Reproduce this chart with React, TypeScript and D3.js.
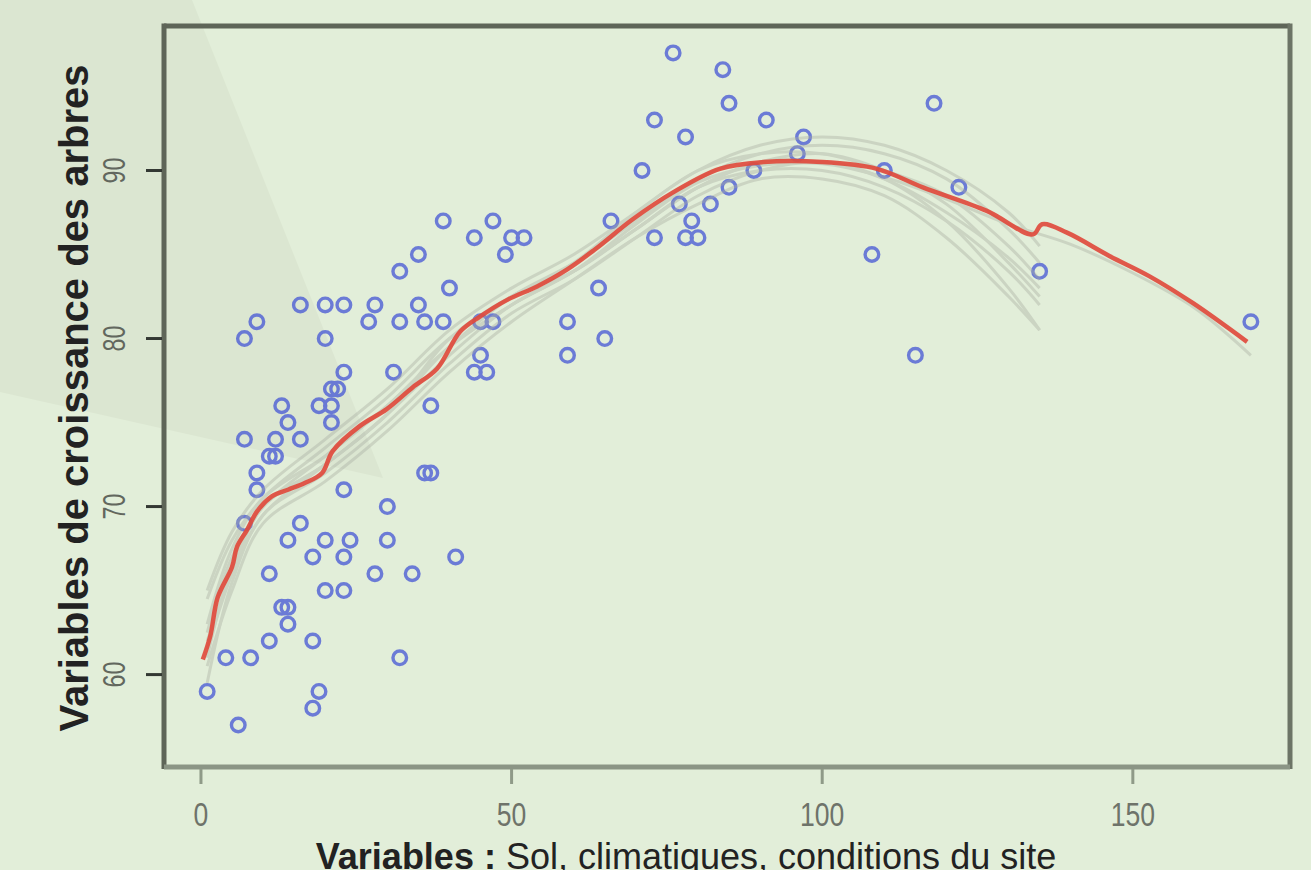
import React from 'react';
import * as d3 from 'd3';

// taille de la figure
const W = 1311;
const H = 870;
const plot = { left: 164, right: 1290, top: 26, bottom: 767 };

const xTicks = [0, 50, 100, 150];
const yTicks = [60, 70, 80, 90];

const xTitleBold = 'Variables :';
const xTitleRest = ' Sol, climatiques, conditions du site';
const yTitle = 'Variables de croissance des arbres';

// observations (x = variable du site, y = croissance)
const pointX = [
  76, 84, 85, 118, 73, 91, 78, 97, 96, 71, 110, 89, 85, 122, 77, 82, 79, 66, 73, 78, 80, 108, 135, 64, 59, 65, 59, 115, 169,
  39, 47, 44, 50, 52, 35, 49, 32, 40, 16, 20, 23, 28, 35, 9, 27, 32, 36, 39, 45, 47, 7, 20, 45, 23, 31, 44, 46, 21, 22,
  13, 19, 21, 37, 14, 21, 7, 12, 16, 11, 12, 9, 36, 37, 9, 23, 30, 7, 16, 14, 20, 24, 30, 18, 23, 41, 11, 28, 34, 20, 23,
  13, 14, 14, 11, 18, 4, 8, 32, 1, 19, 18, 6,
];
const pointY = [
  97, 96, 94, 94, 93, 93, 92, 92, 91, 90, 90, 90, 89, 89, 88, 88, 87, 87, 86, 86, 86, 85, 84, 83, 81, 80, 79, 79, 81,
  87, 87, 86, 86, 86, 85, 85, 84, 83, 82, 82, 82, 82, 82, 81, 81, 81, 81, 81, 81, 81, 80, 80, 79, 78, 78, 78, 78, 77, 77,
  76, 76, 76, 76, 75, 75, 74, 74, 74, 73, 73, 72, 72, 72, 71, 71, 70, 69, 69, 68, 68, 68, 68, 67, 67, 67, 66, 66, 66, 65, 65,
  64, 64, 63, 62, 62, 61, 61, 61, 59, 59, 58, 57,
];

// courbe lissée (loess)
const fitX = [0.3, 1.5, 2.7, 5, 5.8, 7.4, 9, 11.4, 14, 16.7, 19.5, 21.2, 25.6, 29.9, 34.1, 38, 41.7, 44.9, 49.3, 54.1,
  58.9, 63.4, 69.5, 76, 83.5, 90.5, 100, 108.8, 116.2, 126.5, 133.9, 135.4, 139.4, 146.3, 152.7, 159.7, 168.4];
const fitY = [60.9, 62.3, 64.6, 66.4, 67.6, 68.6, 69.7, 70.6, 71, 71.4, 72, 73.3, 74.8, 75.8, 77.1, 78.2, 80.4, 81.3, 82.3, 83.1,
  84.1, 85.3, 87.1, 88.7, 90.1, 90.5, 90.5, 90.1, 89, 87.6, 86.2, 86.8, 86.3, 84.9, 83.7, 82.1, 79.8];

// courbes bootstrap
const bootX = [1, 5, 10, 20, 30, 40, 50, 60, 70, 80, 90, 100, 110, 120, 130, 135];
const boot1 = [63, 67.5, 70.5, 73, 76, 79.5, 82.5, 84.5, 87, 89.5, 91, 91.5, 91, 89.5, 86.5, 84.5];
const boot2 = [61, 66.5, 70, 72.5, 75.5, 79, 82, 84, 86.5, 89, 90.5, 91, 90, 88, 84.5, 82.5];
const boot3 = [59.5, 65.5, 69.5, 72, 75, 78.5, 81.5, 83.5, 86, 88.5, 90, 90.5, 89.5, 87, 83, 80.5];
const boot4 = [64.5, 68, 70.5, 73.5, 76.5, 80, 82.5, 84.5, 87.5, 90, 91.5, 92, 91.5, 90, 87.5, 85.5];
const boot5 = [62, 66, 69.5, 72.5, 75.5, 80, 82.5, 84, 86.5, 89, 90, 90, 89, 87, 84, 82];
const boot6 = [60.5, 65, 69, 71.5, 74.5, 78, 81, 83.5, 86, 88, 89.5, 89.5, 88.5, 86, 82.5, 80.5];
const boot7 = [65, 68.5, 71, 74, 77, 80.5, 83, 85, 87.5, 90, 91, 91, 90, 88.5, 85.5, 83.5];
const boot8 = [62.5, 67, 70, 73, 76, 79.5, 82, 84, 86.5, 89, 90.5, 90.5, 89.5, 87.5, 84.8, 83];
const bootLongX = [1, 5, 10, 20, 30, 40, 50, 60, 70, 80, 90, 100, 110, 120, 130, 140, 150, 160, 169];
const bootLongY = [61.5, 66, 70, 72.5, 75.5, 79.5, 82, 84, 86.8, 89.3, 90.3, 90.4, 89.6, 88.3, 86.8, 85.6, 83.9, 81.8, 79];

const bootSeries = [boot1, boot2, boot3, boot4, boot5, boot6, boot7, boot8];

const font = '"Liberation Sans", Arial, sans-serif';

export default function App() {
  const x = d3.scaleLinear().domain([-5.95, 175.3]).range([plot.left, plot.right]);
  const y = d3.scaleLinear().domain([54.5, 98.6]).range([plot.bottom, plot.top]);

  const line = d3.line<[number, number]>()
    .x(d => x(d[0]))
    .y(d => y(d[1]))
    .curve(d3.curveCatmullRom.alpha(0.5));

  const bootPaths = bootSeries.map(s => line(bootX.map((v, i) => [v, s[i]]) as [number, number][]));
  bootPaths.push(line(bootLongX.map((v, i) => [v, bootLongY[i]]) as [number, number][]));
  const fitPath = line(fitX.map((v, i) => [v, fitY[i]]) as [number, number][]);

  return (
    <svg width={W} height={H} style={{ position: 'absolute', left: 0, top: 0, display: 'block' }}>
      <rect x={0} y={0} width={W} height={H} fill="#e2eed9" />
      {/* zone plus sombre en haut à gauche */}
      <polygon points="0,0 192,0 383,478 0,392" fill="#dbe6d1" />

      {/* points */}
      <g fill="none" stroke="#4a5bd6" strokeWidth={3.4} opacity={0.78}>
        {pointX.map((v, i) => (
          <circle key={i} cx={x(v)} cy={y(pointY[i])} r={6.8} />
        ))}
      </g>

      {/* courbes bootstrap */}
      <g fill="none" stroke="#a9aea2" strokeWidth={3} opacity={0.4}>
        {bootPaths.map((p, i) => <path key={i} d={p ?? ''} />)}
      </g>

      <path d={fitPath ?? ''} fill="none" stroke="#e0473a" strokeWidth={4.5} opacity={0.9} strokeLinejoin="round" />

      {/* cadre */}
      <line x1={plot.left} x2={plot.right} y1={plot.top} y2={plot.top} stroke="#5e6558" strokeWidth={5} />
      <line x1={plot.left} x2={plot.left} y1={plot.top - 2.5} y2={plot.bottom + 2} stroke="#5e6558" strokeWidth={5} />
      <line x1={plot.right} x2={plot.right} y1={plot.top - 2.5} y2={plot.bottom + 2} stroke="#6c7466" strokeWidth={5} />
      <line x1={plot.left} x2={plot.right} y1={plot.bottom} y2={plot.bottom} stroke="#8b9585" strokeWidth={5} />

      {/* axe x */}
      {xTicks.map(t => (
        <g key={t}>
          <line x1={x(t)} x2={x(t)} y1={plot.bottom + 2} y2={plot.bottom + 17} stroke="#8f9a88" strokeWidth={3} />
          <text transform={`translate(${x(t)},826) scale(0.78,1)`} textAnchor="middle"
            fontFamily={font} fontSize={34} fill="#6e736a">{t}</text>
        </g>
      ))}

      {/* axe y */}
      {yTicks.map(t => (
        <g key={t}>
          <line x1={plot.left - 18} x2={plot.left - 2} y1={y(t)} y2={y(t)} stroke="#333833" strokeWidth={3} />
          <text transform={`translate(125,${y(t)}) rotate(-90) scale(0.75,1)`} textAnchor="middle"
            fontFamily={font} fontSize={31} fill="#62675e">{t}</text>
        </g>
      ))}

      {/* titres */}
      <text x={686} y={869} textAnchor="middle" fontFamily={font} fontSize={36} fill="#222">
        <tspan fontWeight="bold">{xTitleBold}</tspan>
        <tspan>{xTitleRest}</tspan>
      </text>
      <text transform={`translate(88,398) rotate(-90)`} textAnchor="middle" fontFamily={font}
        fontSize={40} fontWeight="bold" fill="#222">{yTitle}</text>
    </svg>
  );
}
